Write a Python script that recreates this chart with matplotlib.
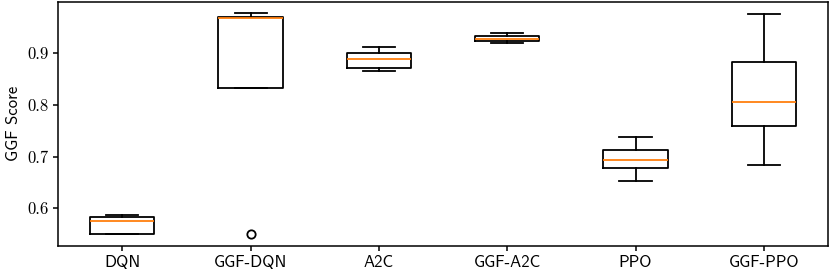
import matplotlib
matplotlib.use("Agg")
import matplotlib.pyplot as plt

methods = ['DQN', 'GGF-DQN', 'A2C', 'GGF-A2C', 'PPO', 'GGF-PPO']

# five runs per method
dqn = [0.549, 0.550, 0.576, 0.582, 0.587]
ggf_dqn = [0.549, 0.833, 0.969, 0.970, 0.978]
a2c = [0.866, 0.872, 0.8895, 0.901, 0.912]
ggf_a2c = [0.9205, 0.9244, 0.9277, 0.934, 0.940]
ppo = [0.652, 0.677, 0.693, 0.7126, 0.738]
ggf_ppo = [0.6835, 0.7597, 0.806, 0.8826, 0.9756]

scores = [dqn, ggf_dqn, a2c, ggf_a2c, ppo, ggf_ppo]

lw = 1.3
fig = plt.figure(figsize=(8.3, 2.73), dpi=100)
ax = fig.add_axes([0.07, 0.1007, 0.9276, 0.892])
ax.boxplot(scores,
           boxprops=dict(linewidth=lw),
           whiskerprops=dict(linewidth=lw),
           capprops=dict(linewidth=lw),
           medianprops=dict(linewidth=lw, color='#ff7f0e'),
           flierprops=dict(markeredgewidth=lw))
for s in ax.spines.values():
    s.set_linewidth(1.1)
ax.tick_params(width=1.1)
ax.set_xticks(range(1, len(methods) + 1))
ax.set_xticklabels(methods, fontfamily='cmss10', fontsize=12)
for lbl in ax.get_yticklabels():
    lbl.set_fontfamily('cmr10')
    lbl.set_fontsize(12)
ax.set_ylabel('GGF Score', fontfamily='cmss10', fontsize=12)

fig.savefig('out.png', dpi=100)
